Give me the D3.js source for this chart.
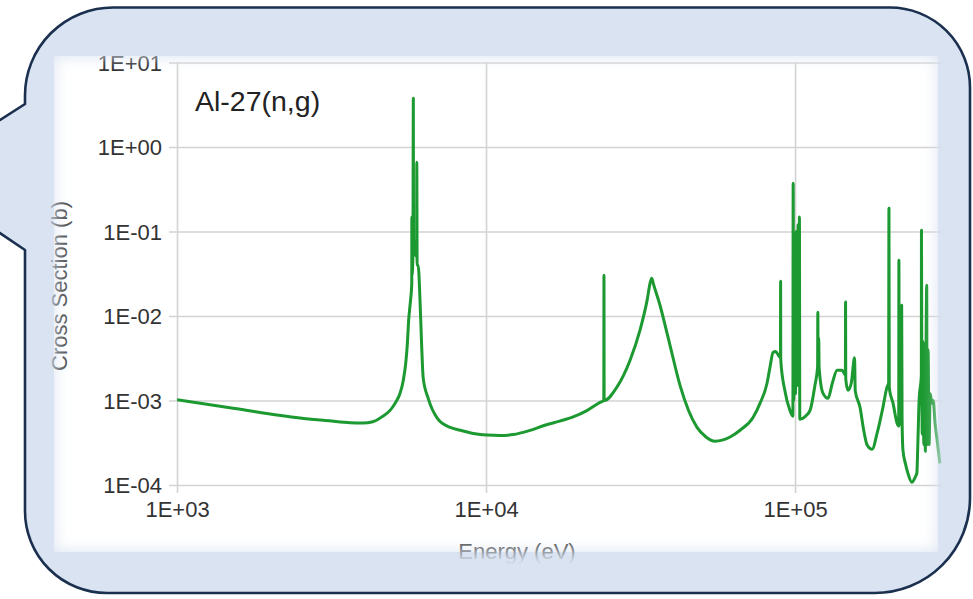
<!DOCTYPE html>
<html>
<head>
<meta charset="utf-8">
<script src="https://cdn.jsdelivr.net/npm/d3@7"></script>
<style>
  body { margin: 0; background: #fff; }
  svg { display: block; }
</style>
</head>
<body>
<svg id="chart" width="973" height="599"></svg>
<script>
// Al-27 (n,gamma) capture cross section, energy in eV, cross section in barns
const energy = [
  1000, 1520, 2500, 3100, 3630, 4000, 4300, 4600, 4900, 5100, 5270, 5400, 5500,
  5560, 5620, 5690, 5750,
  5754, 5760, 5800, 5818, 5826, 5960, 5970, 5985, 6030, 6118, 6194, 6262, 6500,
  6950, 7660, 8250, 9000, 10090, 11100, 12240, 13800, 15500, 17300, 19140,
  21200, 23390, 24050, 24080, 24110,
  26550, 29250, 31500, 33200, 34000, 34380, 34800, 36560, 37960,
  39390, 42440, 48170, 51500, 55080,
  61610, 66390, 73120, 77070, 81150, 83000, 84870, 86500, 88500, 89700, 89800,
  89900, 92640,
  96170, 98400, 98600, 99000, 99600, 100300, 101000, 101600, 102300, 103000,
  103300, 103600, 108000, 111900, 116000, 118300, 118500, 118700, 119300,
  119600, 123100, 127800, 132000, 136800, 141900, 145500, 145700, 145900,
  148300, 152000, 155800, 156600, 162300, 166500, 170900, 177600, 184300, 192500,
  198400, 200800, 201300, 201800, 207500, 213800, 216500, 216800, 217200,
  219000, 221300, 222000, 223400, 227500, 231800, 238700, 245000, 247800, 249600,
  252000, 256200, 256500, 257000, 258000, 259500, 261000, 262500, 264000,
  265500, 266700, 267500, 269500, 271500, 273500, 277500, 280000, 283900,
  288000, 294400
];
const crossSection = [
  1.02e-3, 8.1e-4, 6.2e-4, 5.75e-4, 5.45e-4, 5.4e-4, 5.6e-4, 6.4e-4, 7.7e-4, 9.5e-4, 1.22e-3, 1.74e-3, 2.8e-3,
  4.5e-3, 9.0e-3, 1.46e-2, 2.4e-2,
  0.148, 0.03, 0.05, 3.77, 0.08, 0.05, 0.66, 0.04, 0.04, 0.0146, 4.2e-3, 1.84e-3, 1.06e-3,
  6.2e-4, 4.8e-4, 4.45e-4, 4.1e-4, 3.9e-4, 3.85e-4, 3.95e-4, 4.4e-4, 5.1e-4, 5.7e-4, 6.4e-4,
  7.6e-4, 9.5e-4, 1.0e-3, 0.0304, 1.0e-3,
  1.45e-3, 3.0e-3, 6.8e-3, 0.0153, 0.025, 0.028, 0.024, 0.0134, 7.8e-3,
  4.5e-3, 1.51e-3, 4.8e-4, 3.7e-4, 3.3e-4,
  3.7e-4, 4.45e-4, 6.3e-4, 9.3e-4, 1.6e-3, 2.5e-3, 3.7e-3, 3.8e-3, 3.4e-3, 3.2e-3, 0.0258,
  3.0e-3, 1.32e-3,
  7.7e-4, 6.5e-4, 0.373, 1.0e-3, 0.08, 1.2e-3, 0.1, 1.5e-3, 0.12, 2.0e-3,
  0.148, 6.0e-4, 6.5e-4, 7.7e-4, 1.52e-3, 2.5e-3, 0.0111, 3.0e-3, 5.5e-3,
  2.5e-3, 1.22e-3, 1.06e-3, 1.6e-3, 2.28e-3, 2.28e-3, 2.0e-3, 0.0146, 1.8e-3,
  1.32e-3, 1.6e-3, 3.2e-3, 1.3e-3, 8.3e-4, 4.6e-4, 3.0e-4, 2.65e-4, 4.1e-4, 8.3e-4,
  1.44e-3, 1.6e-3, 0.189, 1.4e-3, 9.3e-4, 5.4e-4, 5.0e-4, 0.0457, 5.0e-4,
  1.0e-3, 0.0134, 6.0e-4, 2.6e-4, 1.8e-4, 1.38e-4, 1.08e-4, 1.25e-4, 1.38e-4, 3.0e-4,
  1.0e-3, 2.0e-3, 0.1036, 5.0e-3, 4.0e-4, 5.0e-3, 3.0e-4, 4.5e-3, 2.5e-4,
  5.0e-3, 0.0231, 3.0e-4, 4.0e-3, 3.0e-4, 1.2e-3, 9.3e-4, 1.0e-3, 5.4e-4,
  3.5e-4, 1.8e-4
];

const xTickValues = [1e3, 1e4, 1e5];
const xTickLabels = ["1E+03", "1E+04", "1E+05"];
const yTickValues = [1e-4, 1e-3, 1e-2, 1e-1, 1, 10];
const yTickLabels = ["1E-04", "1E-03", "1E-02", "1E-01", "1E+00", "1E+01"];
const chartTitle = "Al-27(n,g)";
const xTitle = "Energy (eV)";
const yTitle = "Cross Section (b)";

const FONT = "'Liberation Sans', Arial, sans-serif";
const BLUE = "#d9e3f2";
const NAVY = "#1b2f4e";
const GREEN = "#1c9930";
const GRID = "#d3d3d3";

const svg = d3.select("#chart");
const defs = svg.append("defs");

// plot area
const plot = { left: 177, right: 942.5, top: 62.5, bottom: 485 };

const x = d3.scaleLog().domain([1e3, 3e5]).range([plot.left, plot.right]);
const y = d3.scaleLog().domain([1e-4, 10]).range([plot.bottom, plot.top]);

// speech-bubble outline with a pointer on the left side
function bubblePath() {
  const L = 25, R = 970, T = 7.5, B = 593;
  const rTL = 88, rTR = 80, rBR = 95, rBL = 82;
  const p = d3.path();
  p.moveTo(L + rTL, T);
  p.lineTo(R - rTR, T);
  p.arcTo(R, T, R, T + rTR, rTR);
  p.lineTo(R, B - rBR);
  p.arcTo(R, B, R - rBR, B, rBR);
  p.lineTo(L + rBL, B);
  p.arcTo(L, B, L, B - rBL, rBL);
  p.lineTo(L, 250);
  p.lineTo(-86, 175);
  p.lineTo(L, 104);
  p.lineTo(L, T + rTL);
  p.arcTo(L, T, L + rTL, T, rTL);
  p.closePath();
  return p.toString();
}
const bubble = bubblePath();

defs.append("clipPath").attr("id", "bubbleClip").append("path").attr("d", bubble);
defs.append("clipPath").attr("id", "plotClip").append("rect")
  .attr("x", plot.left).attr("y", plot.top - 4)
  .attr("width", plot.right - plot.left + 2).attr("height", plot.bottom - plot.top + 8);
defs.append("filter").attr("id", "soft")
  .attr("filterUnits", "userSpaceOnUse")
  .attr("x", -300).attr("y", -300).attr("width", 1600).attr("height", 1200)
  .append("feGaussianBlur").attr("stdDeviation", 7.5);

const inner = svg.append("g").attr("clip-path", "url(#bubbleClip)");
inner.append("path").attr("d", bubble).attr("fill", BLUE);
inner.append("rect").attr("x", 54).attr("y", 56).attr("width", 884).attr("height", 496).attr("fill", "#fff");

const chart = inner.append("g");

// y axis with horizontal gridlines
const yAxis = d3.axisLeft(y)
  .tickValues(yTickValues)
  .tickFormat((d, i) => yTickLabels[i])
  .tickSize(-(plot.right - plot.left + 8))
  .tickPadding(7);
const gy = chart.append("g")
  .attr("transform", `translate(${plot.left - 8},0)`)
  .call(yAxis);
gy.select(".domain").remove();
gy.selectAll(".tick line").attr("stroke", GRID).attr("stroke-width", 1.6);
gy.selectAll(".tick text")
  .attr("fill", "#333").attr("font-family", FONT).attr("font-size", 22)
  .attr("dy", "0.36em");

// x axis with vertical gridlines
const xAxis = d3.axisBottom(x)
  .tickValues(xTickValues)
  .tickFormat((d, i) => xTickLabels[i])
  .tickSize(-(plot.bottom - plot.top + 8))
  .tickPadding(8.5);
const gx = chart.append("g")
  .attr("transform", `translate(0,${plot.bottom + 8})`)
  .call(xAxis);
gx.select(".domain").remove();
gx.selectAll(".tick line").attr("stroke", GRID).attr("stroke-width", 1.6);
gx.selectAll(".tick text")
  .attr("fill", "#333").attr("font-family", FONT).attr("font-size", 22);

// cross-section curve
const series = energy.map((e, i) => [e, crossSection[i]]);
const line = d3.line()
  .x(d => x(d[0]))
  .y(d => y(d[1]))
  .curve(d3.curveMonotoneX);
chart.append("path")
  .datum(series)
  .attr("clip-path", "url(#plotClip)")
  .attr("fill", "none")
  .attr("stroke", GREEN)
  .attr("stroke-width", 3)
  .attr("stroke-linejoin", "round")
  .attr("d", line);

// titles
chart.append("text")
  .attr("x", 195).attr("y", 111)
  .attr("font-family", FONT).attr("font-size", 28.5).attr("fill", "#222")
  .text(chartTitle);
chart.append("text")
  .attr("x", 517).attr("y", 559)
  .attr("text-anchor", "middle")
  .attr("font-family", FONT).attr("font-size", 22).attr("fill", "#555")
  .text(xTitle);
chart.append("text")
  .attr("transform", "translate(67,286) rotate(-90)")
  .attr("text-anchor", "middle")
  .attr("font-family", FONT).attr("font-size", 22).attr("fill", "#555")
  .text(yTitle);

// soft blue frame fading into the white panel
inner.append("path")
  .attr("d", "M-200,-200H1200V800H-200Z M54,56V552H938V56Z")
  .attr("fill-rule", "evenodd")
  .attr("fill", BLUE)
  .attr("filter", "url(#soft)");

// bubble border
svg.append("path")
  .attr("d", bubble)
  .attr("fill", "none")
  .attr("stroke", NAVY)
  .attr("stroke-width", 2.6)
  .attr("stroke-linejoin", "round");
</script>
</body>
</html>
